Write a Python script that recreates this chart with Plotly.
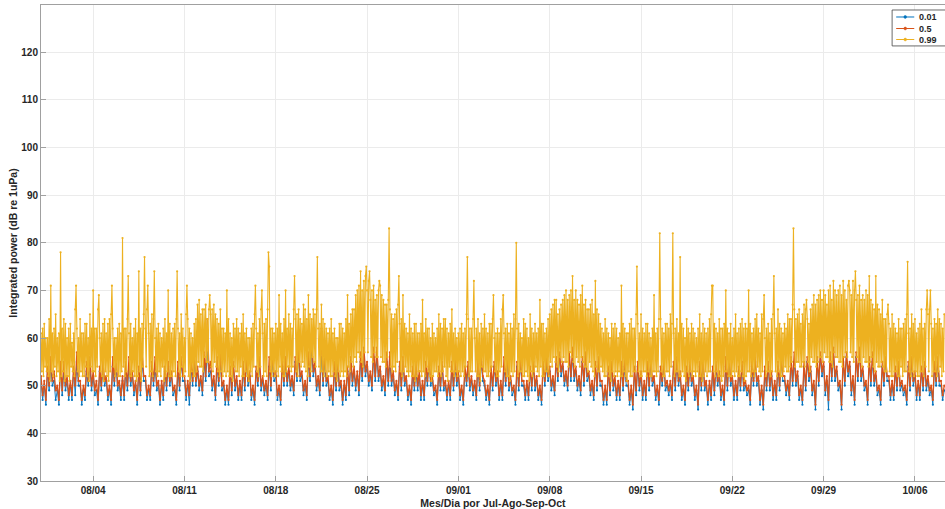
import pandas as pd
import plotly.graph_objects as go

# ---- data (one line per day from 07/31) ----
series_names = ["0.01", "0.5", "0.99"]
start_time = "2023-07-31 00:00"
steps = ["3h", "3h", "90min"]

# 0.01 percentile, 3-hourly
p01 = [
    51, 47, 50, 46, 53, 49, 54, 50,
    51, 47, 49, 46, 54, 48, 53, 49,
    51, 47, 50, 47, 53, 48, 55, 50,
    50, 46, 49, 47, 53, 50, 54, 49,
    52, 48, 49, 46, 53, 49, 54, 50,
    51, 47, 49, 46, 54, 50, 55, 49,
    50, 47, 51, 47, 53, 49, 54, 50,
    52, 48, 50, 46, 53, 48, 55, 51,
    51, 47, 49, 47, 54, 50, 54, 49,
    50, 46, 50, 47, 53, 49, 54, 50,
    52, 48, 49, 46, 53, 49, 55, 51,
    51, 47, 50, 46, 54, 50, 55, 50,
    53, 49, 51, 48, 55, 51, 57, 52,
    53, 49, 51, 47, 54, 50, 55, 49,
    50, 46, 49, 46, 53, 48, 54, 49,
    51, 47, 50, 47, 53, 49, 55, 50,
    52, 47, 49, 46, 53, 50, 54, 49,
    51, 48, 50, 47, 54, 49, 55, 51,
    52, 47, 49, 46, 54, 50, 54, 50,
    53, 49, 51, 48, 55, 51, 56, 51,
    52, 48, 50, 47, 55, 51, 57, 52,
    54, 49, 51, 48, 56, 50, 55, 50,
    51, 47, 49, 46, 53, 49, 54, 49,
    50, 46, 50, 47, 53, 48, 55, 50,
    53, 49, 52, 48, 55, 51, 56, 52,
    54, 50, 52, 49, 56, 51, 56, 51,
    53, 49, 51, 48, 55, 50, 55, 50,
    52, 48, 50, 47, 54, 49, 55, 50,
    51, 47, 49, 46, 53, 49, 53, 49,
    52, 47, 50, 47, 53, 50, 55, 50,
    51, 48, 49, 46, 53, 49, 54, 49,
    50, 47, 50, 47, 54, 49, 54, 50,
    52, 47, 49, 46, 53, 50, 54, 49,
    51, 48, 50, 47, 54, 49, 55, 51,
    50, 47, 49, 46, 53, 49, 54, 50,
    52, 47, 50, 47, 54, 50, 55, 49,
    51, 48, 49, 46, 54, 49, 55, 50,
    50, 47, 50, 47, 53, 49, 54, 49,
    51, 47, 49, 46, 54, 50, 54, 51,
    53, 49, 51, 48, 55, 51, 56, 52,
    54, 50, 52, 49, 56, 51, 56, 51,
    53, 49, 51, 48, 55, 50, 56, 51,
    52, 48, 50, 47, 54, 49, 55, 50,
    50, 46, 49, 46, 53, 48, 54, 49,
    51, 47, 50, 47, 54, 49, 54, 50,
    50, 46, 49, 45, 53, 48, 54, 49,
    52, 47, 50, 47, 54, 49, 55, 50,
    51, 47, 49, 46, 53, 50, 54, 49,
    50, 48, 50, 47, 54, 49, 55, 50,
    52, 47, 49, 46, 53, 49, 54, 50,
    51, 47, 49, 45, 54, 49, 55, 49,
    50, 46, 50, 47, 53, 48, 54, 50,
    52, 47, 49, 46, 54, 49, 55, 50,
    51, 47, 50, 47, 53, 49, 54, 49,
    50, 48, 49, 46, 54, 50, 55, 50,
    51, 46, 49, 45, 53, 49, 54, 49,
    52, 47, 50, 47, 54, 49, 55, 51,
    51, 48, 50, 47, 55, 50, 55, 50,
    52, 47, 49, 46, 54, 49, 55, 51,
    53, 48, 50, 45, 55, 50, 56, 52,
    54, 48, 51, 45, 56, 51, 56, 51,
    53, 49, 50, 45, 55, 50, 56, 52,
    54, 48, 51, 46, 56, 51, 57, 51,
    53, 49, 50, 46, 55, 50, 55, 50,
    52, 48, 49, 46, 54, 50, 55, 51,
    51, 47, 50, 47, 53, 49, 54, 49,
    50, 48, 49, 46, 54, 49, 55, 50,
    52, 47, 50, 47, 53, 49, 54, 49,
    51, 48, 49, 46, 54, 50, 55, 50,
    50, 47, 49,
]

# 0.5 percentile, 3-hourly
p50 = [
    52, 48, 51, 47, 54, 50, 56, 51,
    53, 49, 50, 47, 55, 49, 55, 50,
    52, 48, 51, 48, 54, 50, 57, 51,
    51, 47, 50, 48, 55, 51, 56, 50,
    53, 49, 51, 47, 54, 50, 55, 51,
    52, 48, 50, 47, 56, 51, 57, 50,
    51, 48, 52, 48, 55, 50, 56, 51,
    53, 49, 51, 47, 54, 49, 57, 52,
    52, 48, 50, 48, 55, 51, 56, 50,
    51, 47, 51, 48, 54, 50, 55, 51,
    53, 49, 50, 47, 55, 50, 56, 52,
    52, 48, 51, 48, 56, 51, 57, 51,
    54, 50, 52, 49, 57, 52, 64, 53,
    55, 50, 52, 48, 56, 51, 57, 50,
    51, 47, 50, 47, 54, 49, 55, 50,
    52, 48, 51, 48, 55, 50, 56, 51,
    53, 48, 50, 47, 54, 51, 56, 50,
    52, 49, 51, 48, 56, 50, 57, 52,
    53, 48, 50, 47, 55, 51, 56, 51,
    54, 50, 52, 49, 56, 52, 58, 52,
    53, 49, 51, 48, 57, 52, 61, 53,
    55, 50, 52, 49, 62, 51, 57, 51,
    52, 48, 50, 47, 55, 50, 56, 50,
    51, 47, 51, 48, 54, 49, 56, 51,
    54, 50, 53, 49, 57, 52, 58, 53,
    55, 51, 53, 50, 58, 52, 58, 52,
    54, 50, 52, 49, 57, 51, 57, 51,
    53, 49, 51, 48, 55, 50, 56, 51,
    52, 48, 50, 47, 54, 50, 55, 50,
    53, 48, 51, 48, 55, 51, 56, 51,
    52, 49, 50, 47, 54, 50, 55, 50,
    51, 48, 51, 48, 55, 50, 56, 51,
    53, 48, 50, 47, 54, 51, 55, 50,
    52, 49, 51, 48, 56, 50, 56, 52,
    51, 48, 50, 47, 54, 50, 55, 51,
    53, 48, 51, 48, 56, 51, 57, 50,
    52, 49, 50, 47, 55, 50, 56, 51,
    51, 48, 51, 48, 54, 50, 55, 50,
    52, 48, 50, 47, 55, 51, 56, 52,
    54, 50, 52, 49, 56, 52, 57, 53,
    55, 51, 53, 50, 57, 52, 58, 52,
    54, 50, 52, 49, 56, 51, 57, 52,
    53, 49, 51, 48, 55, 50, 56, 51,
    51, 47, 50, 47, 54, 49, 55, 50,
    52, 48, 51, 48, 55, 50, 56, 51,
    51, 47, 50, 46, 54, 49, 55, 50,
    53, 48, 51, 48, 55, 50, 56, 51,
    52, 48, 50, 47, 54, 51, 55, 50,
    51, 49, 51, 48, 55, 50, 56, 51,
    53, 48, 50, 47, 54, 50, 55, 51,
    52, 48, 50, 46, 55, 50, 56, 50,
    51, 47, 51, 48, 54, 49, 55, 51,
    53, 48, 50, 47, 56, 50, 57, 51,
    52, 48, 51, 48, 54, 50, 55, 50,
    51, 49, 50, 47, 55, 51, 56, 51,
    52, 47, 50, 46, 54, 50, 55, 50,
    53, 48, 51, 48, 55, 50, 56, 52,
    52, 49, 51, 48, 56, 51, 57, 51,
    53, 48, 50, 47, 55, 50, 56, 52,
    54, 49, 51, 46, 56, 51, 57, 53,
    55, 49, 52, 47, 57, 52, 58, 52,
    54, 50, 51, 46, 56, 51, 57, 53,
    55, 49, 52, 47, 57, 52, 58, 52,
    54, 50, 51, 47, 56, 51, 57, 51,
    53, 49, 50, 47, 55, 51, 56, 52,
    52, 48, 51, 48, 54, 50, 55, 50,
    51, 49, 50, 47, 55, 50, 56, 51,
    53, 48, 51, 48, 54, 50, 55, 50,
    52, 49, 50, 47, 55, 51, 56, 51,
    51, 48, 50,
]

# 0.99 percentile, every 90 minutes
p99 = [
    61, 53, 62, 52, 63, 54, 60, 53, 60, 52, 64, 51, 71, 53, 61, 52,
    62, 54, 65, 52, 60, 53, 61, 51, 78, 52, 62, 53, 64, 51, 63, 52,
    60, 52, 62, 51, 63, 54, 59, 53, 61, 52, 66, 71, 62, 53, 60, 52,
    64, 53, 61, 52, 61, 52, 63, 54, 63, 52, 60, 51, 65, 54, 62, 53,
    70, 53, 62, 52, 62, 54, 66, 69, 60, 53, 61, 52, 63, 51, 64, 53,
    61, 52, 63, 51, 64, 53, 65, 71, 62, 54, 60, 52, 60, 53, 62, 52,
    63, 52, 61, 53, 81, 54, 62, 52, 62, 53, 64, 73, 61, 52, 63, 52,
    60, 53, 62, 52, 64, 51, 61, 52, 74, 53, 62, 51, 63, 54, 65, 77,
    62, 54, 66, 71, 61, 52, 63, 53, 65, 52, 64, 74, 60, 53, 62, 52,
    63, 53, 61, 52, 60, 54, 62, 51, 64, 52, 61, 53, 70, 52, 63, 52,
    61, 52, 62, 53, 63, 52, 64, 74, 62, 53, 61, 52, 65, 54, 62, 52,
    60, 53, 65, 71, 64, 52, 62, 51, 61, 53, 60, 52, 63, 52, 64, 53,
    67, 55, 68, 54, 65, 54, 66, 53, 66, 56, 67, 55, 64, 55, 66, 69,
    65, 54, 66, 53, 67, 55, 65, 54, 64, 53, 63, 52, 66, 53, 62, 52,
    62, 53, 61, 52, 70, 53, 64, 52, 61, 52, 60, 51, 63, 54, 62, 53,
    64, 53, 62, 52, 61, 54, 63, 52, 65, 52, 61, 53, 62, 52, 60, 51,
    60, 53, 62, 52, 63, 54, 65, 71, 62, 53, 61, 52, 64, 54, 66, 70,
    61, 52, 63, 53, 64, 52, 66, 78, 75, 53, 62, 52, 62, 53, 61, 52,
    63, 53, 62, 52, 69, 54, 63, 53, 61, 52, 64, 52, 70, 53, 62, 54,
    65, 54, 63, 53, 62, 54, 66, 73, 64, 53, 65, 52, 66, 55, 64, 54,
    63, 55, 67, 54, 66, 53, 64, 52, 69, 54, 65, 53, 64, 56, 66, 55,
    65, 54, 66, 77, 62, 54, 63, 53, 67, 53, 64, 52, 63, 53, 62, 52,
    61, 53, 62, 52, 64, 52, 61, 53, 62, 52, 60, 51, 60, 53, 63, 52,
    63, 53, 62, 52, 61, 53, 64, 52, 69, 54, 63, 53, 65, 55, 66, 54,
    66, 56, 69, 55, 70, 57, 71, 56, 74, 55, 70, 54, 72, 57, 73, 75,
    70, 57, 72, 74, 68, 56, 70, 55, 71, 57, 68, 56, 69, 56, 70, 72,
    71, 56, 69, 55, 68, 55, 67, 54, 67, 56, 68, 83, 66, 54, 65, 53,
    64, 54, 65, 53, 66, 55, 67, 73, 63, 53, 64, 52, 69, 53, 63, 54,
    62, 53, 61, 52, 65, 53, 62, 52, 61, 52, 63, 51, 63, 52, 61, 53,
    61, 53, 63, 52, 68, 53, 61, 52, 64, 54, 62, 53, 62, 52, 60, 51,
    63, 52, 61, 53, 60, 53, 62, 52, 65, 53, 63, 52, 62, 53, 64, 54,
    64, 52, 62, 51, 61, 54, 63, 53, 66, 53, 61, 52, 62, 53, 60, 52,
    61, 53, 62, 52, 63, 53, 61, 52, 62, 54, 65, 77, 64, 52, 62, 53,
    62, 53, 64, 72, 60, 53, 62, 52, 64, 52, 61, 51, 63, 54, 62, 53,
    65, 53, 62, 52, 61, 52, 63, 53, 63, 54, 64, 69, 60, 53, 61, 52,
    62, 52, 61, 53, 64, 54, 66, 69, 61, 53, 62, 52, 63, 52, 61, 51,
    63, 53, 62, 52, 65, 53, 64, 80, 62, 52, 63, 53, 61, 53, 60, 52,
    64, 52, 63, 53, 62, 52, 60, 51, 65, 53, 62, 52, 61, 53, 63, 54,
    61, 53, 62, 52, 68, 54, 63, 52, 63, 52, 61, 53, 62, 53, 64, 52,
    65, 55, 66, 54, 67, 56, 68, 55, 68, 54, 65, 53, 66, 56, 67, 55,
    68, 56, 69, 55, 70, 55, 68, 54, 69, 57, 70, 56, 73, 55, 68, 54,
    70, 56, 68, 55, 67, 54, 69, 56, 71, 55, 67, 54, 68, 54, 66, 53,
    66, 55, 67, 54, 68, 53, 65, 52, 72, 54, 66, 53, 65, 53, 63, 54,
    62, 53, 61, 52, 64, 52, 62, 53, 61, 52, 60, 51, 63, 53, 62, 52,
    63, 53, 62, 52, 60, 53, 61, 52, 71, 52, 63, 53, 62, 52, 61, 51,
    61, 53, 63, 52, 64, 52, 62, 53, 62, 53, 65, 75, 63, 53, 61, 52,
    65, 52, 62, 53, 61, 53, 63, 52, 63, 53, 61, 52, 60, 52, 62, 53,
    69, 53, 61, 52, 62, 53, 64, 82, 64, 53, 62, 52, 61, 52, 63, 53,
    63, 53, 62, 52, 65, 54, 63, 82, 61, 52, 62, 53, 64, 53, 61, 52,
    77, 52, 63, 53, 62, 52, 60, 51, 64, 53, 62, 52, 61, 53, 63, 52,
    62, 53, 61, 52, 60, 53, 62, 52, 65, 52, 61, 51, 63, 52, 62, 53,
    61, 52, 62, 53, 64, 53, 65, 71, 71, 53, 63, 52, 62, 53, 61, 52,
    64, 52, 62, 51, 62, 52, 63, 53, 70, 53, 62, 52, 61, 52, 63, 52,
    60, 53, 62, 52, 65, 53, 61, 52, 62, 52, 63, 53, 64, 52, 62, 51,
    63, 52, 62, 53, 70, 53, 63, 52, 61, 53, 62, 52, 64, 53, 65, 54,
    62, 53, 61, 52, 65, 53, 64, 69, 60, 52, 62, 53, 63, 53, 61, 52,
    64, 53, 65, 73, 61, 53, 62, 52, 66, 53, 63, 52, 62, 52, 61, 53,
    63, 54, 62, 53, 65, 53, 64, 54, 64, 55, 67, 83, 66, 54, 64, 55,
    65, 55, 66, 54, 63, 54, 65, 55, 67, 54, 66, 68, 64, 55, 63, 53,
    66, 56, 67, 55, 69, 55, 67, 54, 68, 55, 69, 56, 70, 56, 68, 55,
    70, 57, 69, 56, 67, 56, 70, 55, 71, 55, 68, 54, 72, 57, 70, 56,
    69, 56, 70, 55, 71, 55, 69, 54, 72, 56, 70, 57, 68, 56, 71, 72,
    70, 57, 69, 56, 72, 55, 70, 74, 68, 56, 69, 55, 71, 55, 68, 54,
    69, 56, 68, 55, 70, 55, 69, 54, 73, 55, 68, 56, 67, 54, 66, 53,
    73, 55, 67, 54, 66, 54, 65, 55, 68, 54, 64, 53, 64, 53, 65, 67,
    63, 53, 62, 52, 65, 52, 63, 53, 62, 53, 61, 52, 64, 52, 62, 54,
    62, 52, 63, 53, 64, 53, 65, 76, 61, 53, 62, 52, 65, 53, 63, 52,
    64, 53, 61, 52, 62, 52, 63, 53, 66, 53, 62, 52, 63, 54, 66, 70,
    65, 53, 66, 70, 63, 52, 62, 53, 64, 53, 63, 52, 66, 53, 64, 54,
    63, 52, 62, 53, 65,
]

tick_dates = ["2023-08-04", "2023-08-11", "2023-08-18", "2023-08-25", "2023-09-01",
              "2023-09-08", "2023-09-15", "2023-09-22", "2023-09-29", "2023-10-06"]
tick_labels = ["08/04", "08/11", "08/18", "08/25", "09/01",
               "09/08", "09/15", "09/22", "09/29", "10/06"]
y_ticks = [30, 40, 50, 60, 70, 80, 90, 100, 110, 120]

x_title = "Mes/Dia por Jul-Ago-Sep-Oct"
y_title = "Integrated power (dB re 1uPa)"

colors = ["#0072BD", "#D95319", "#EDB120"]
widths = [0.9, 1.3, 1.1]
all_values = [p01, p50, p99]

fig = go.Figure()
for name, vals, col, w, st in zip(series_names, all_values, colors, widths, steps):
    t = pd.date_range(start_time, periods=len(vals), freq=st)
    fig.add_trace(go.Scatter(
        x=t, y=vals, name=name, mode="lines+markers",
        line=dict(color=col, width=w),
        marker=dict(color=col, size=2.2),
        showlegend=False,
    ))

font_family = "Liberation Sans, Arial, sans-serif"

# MATLAB-style legend box in the top-right corner
legend_x0, legend_y0, legend_y1 = 0.9415, 0.9895, 0.914
sample_x0, sample_x1, text_x = 0.946, 0.966, 0.969
row_y = [0.9748, 0.9506, 0.9275]
shapes = [dict(type="rect", xref="paper", yref="paper",
               x0=legend_x0, x1=1.06, y0=legend_y1, y1=legend_y0,
               line=dict(color="#444444", width=0.8), fillcolor="white", layer="above")]
annotations = []
for name, col, yy in zip(series_names, colors, row_y):
    shapes.append(dict(type="line", xref="paper", yref="paper",
                       x0=sample_x0, x1=sample_x1, y0=yy, y1=yy,
                       line=dict(color=col, width=1), layer="above"))
    xm = (sample_x0 + sample_x1) / 2
    shapes.append(dict(type="circle", xref="paper", yref="paper",
                       x0=xm - 0.0015, x1=xm + 0.0015, y0=yy - 0.003, y1=yy + 0.003,
                       line=dict(color=col, width=0.5), fillcolor=col, layer="above"))
    annotations.append(dict(x=text_x, y=yy, xref="paper", yref="paper",
                            xanchor="left", yanchor="middle", showarrow=False,
                            text=name, font=dict(size=9, weight="bold", color="#262626")))

fig.update_layout(
    width=945, height=509,
    margin=dict(l=41, r=0, t=5, b=28),
    paper_bgcolor="white", plot_bgcolor="white",
    font=dict(family=font_family, color="#262626"),
    showlegend=False,
    shapes=shapes,
    annotations=annotations,
)
fig.update_xaxes(
    range=["2023-07-31 00:00", "2023-10-08 07:20"],
    tickvals=tick_dates, ticktext=tick_labels,
    tickfont=dict(size=10, weight="bold", color="#262626"),
    showgrid=True, gridcolor="#ebebeb", gridwidth=1,
    showline=True, linecolor="#a0a0a0", linewidth=1, mirror=True,
    ticks="inside", ticklen=5, tickcolor="#a0a0a0",
    zeroline=False,
    title=dict(text=x_title, font=dict(size=10.5, weight="bold", color="#262626"), standoff=4),
)
fig.update_yaxes(
    range=[30, 129.9],
    tickvals=y_ticks,
    tickfont=dict(size=10, weight="bold", color="#262626"),
    showgrid=True, gridcolor="#ebebeb", gridwidth=1,
    showline=True, linecolor="#a0a0a0", linewidth=1,
    ticks="inside", ticklen=5, tickcolor="#a0a0a0",
    zeroline=False,
    title=dict(text=y_title, font=dict(size=10.5, weight="bold", color="#262626"), standoff=1),
)

fig.write_html("out.html")
